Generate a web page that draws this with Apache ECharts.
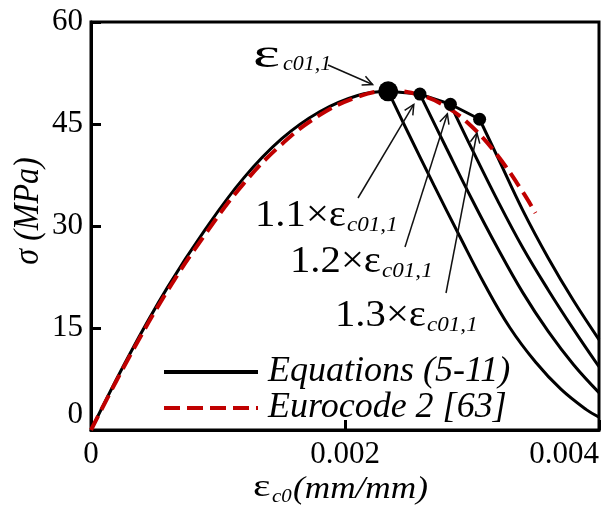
<!DOCTYPE html>
<html>
<head>
<meta charset="utf-8">
<script src="https://cdn.jsdelivr.net/npm/echarts@6/dist/echarts.min.js"></script>
<style>
  html, body { margin: 0; padding: 0; background: #fff; }
  #chart { width: 603px; height: 510px; }
</style>
</head>
<body>
<div id="chart"></div>
<script>
// Axis ticks
const strainTicks = [0, 0.002, 0.004];
const stressTicks = [0, 15, 30, 45, 60];

// Proposed model (Equations 5-11): ascending branch up to the peak (strain, stress in MPa)
const eqAscending = [
  [0, 0], [0.0003, 11.0], [0.0006, 20.9], [0.0009, 29.5], [0.0012, 37.0],
  [0.0015, 42.8], [0.0018, 46.8], [0.0021, 49.2], [0.00234, 49.8]
];
// Envelope linking the peak with the shifted peak points
const eqEnvelope = [[0.00234, 49.8], [0.00259, 49.4], [0.00283, 47.9], [0.00306, 45.7]];

// Descending branches starting at 1.0, 1.1, 1.2 and 1.3 x peak strain
const descent10 = [[0.00234, 49.8], [0.0025, 43.6], [0.0027, 36.0], [0.0029, 28.6], [0.0031, 21.4], [0.0033, 15.0], [0.0035, 10.0], [0.0037, 6.0], [0.0039, 3.0], [0.004, 1.9]];
const descent11 = [[0.00259, 49.4], [0.0028, 41.4], [0.003, 33.9], [0.0032, 26.8], [0.0034, 20.2], [0.0036, 14.5], [0.0038, 9.6], [0.004, 5.5]];
const descent12 = [[0.00283, 47.9], [0.003, 41.3], [0.0032, 33.8], [0.0034, 26.8], [0.0036, 20.6], [0.0038, 14.8], [0.004, 9.3]];
const descent13 = [[0.00306, 45.7], [0.0032, 40.2], [0.0034, 32.3], [0.0036, 25.3], [0.0038, 19.0], [0.004, 13.3]];

// Eurocode 2 stress-strain relation
const eurocode = [
  [0, 0], [0.0003, 10.7], [0.0006, 20.4], [0.0009, 28.8], [0.0012, 36.2],
  [0.0015, 42.0], [0.0018, 46.3], [0.0021, 49.0], [0.00235, 49.9],
  [0.0026, 49.2], [0.0028, 47.5], [0.003, 44.6], [0.0032, 40.4], [0.0034, 35.0], [0.0035, 31.9]
];

// Peak point and shifted peak points
const peakPoint = [[0.00234, 49.8]];
const shiftedPeaks = [[0.00259, 49.4], [0.00283, 47.9], [0.00306, 45.7]];

const serif = "'Liberation Serif', 'Times New Roman', serif";
const EQ = 'Equations (5-11)';
const EC = 'Eurocode 2 [63]';

function blackLine(data, smooth) {
  return {
    name: EQ, type: 'line', data: data, smooth: smooth, symbol: 'none',
    lineStyle: { color: '#000', width: 3 }, itemStyle: { color: '#000' }, z: 2
  };
}

const chart = echarts.init(document.getElementById('chart'));
const option = {
  animation: false,
  grid: { left: 91, right: 4, top: 22, bottom: 80, show: true, borderColor: '#000', borderWidth: 3 },
  xAxis: {
    type: 'value', min: strainTicks[0], max: strainTicks[strainTicks.length - 1], interval: strainTicks[1] - strainTicks[0],
    axisLine: { lineStyle: { color: '#000', width: 3 } },
    axisTick: { inside: true, length: 10, lineStyle: { color: '#000', width: 3 } },
    splitLine: { show: false },
    axisLabel: {
      color: '#000', fontFamily: serif, fontSize: 31, margin: 9,
      alignMaxLabel: 'right',
      formatter: v => (v === 0 ? '0' : v.toFixed(3))
    }
  },
  yAxis: {
    type: 'value', min: stressTicks[0], max: stressTicks[stressTicks.length - 1], interval: stressTicks[1] - stressTicks[0],
    axisLine: { lineStyle: { color: '#000', width: 3 } },
    axisTick: { inside: true, length: 10, lineStyle: { color: '#000', width: 3 } },
    splitLine: { show: false },
    axisLabel: { color: '#000', fontFamily: serif, fontSize: 31, margin: 8, verticalAlignMinLabel: 'bottom' }
  },
  legend: {
    orient: 'vertical', left: 157, top: 349, itemWidth: 94, itemHeight: 14, itemGap: 0,
    itemStyle: { opacity: 0 },
    textStyle: { fontFamily: serif, fontStyle: 'italic', fontSize: 36, lineHeight: 35, color: '#000', padding: [0, 0, 0, 5] },
    data: [
      { name: EQ, lineStyle: { color: '#000', width: 4, type: 'solid' } },
      { name: EC, lineStyle: { color: '#c00000', width: 4, type: [16, 7] } }
    ]
  },
  series: [
    blackLine(eqAscending, 0.4),
    blackLine(eqEnvelope, false),
    blackLine(descent10, 0.4),
    blackLine(descent11, 0.4),
    blackLine(descent12, 0.4),
    blackLine(descent13, 0.4),
    {
      name: EC, type: 'line', data: eurocode, smooth: 0.4, symbol: 'none',
      lineStyle: { color: '#c00000', width: 4, type: [16, 7] }, itemStyle: { color: '#c00000' }, z: 3
    },
    {
      name: 'Peak', type: 'scatter', data: peakPoint, symbolSize: 20,
      itemStyle: { color: '#000', opacity: 1 }, z: 5
    },
    {
      name: 'Shifted peaks', type: 'scatter', data: shiftedPeaks, symbolSize: 13,
      itemStyle: { color: '#000', opacity: 1 }, z: 5
    }
  ]
};
chart.setOption(option);

// Annotation arrows: tail in pixels, tip placed next to the marked point
const arrows = [
  { point: peakPoint[0], tail: [328, 65], gap: 17 },
  { point: shiftedPeaks[0], tail: [358, 198], gap: 12 },
  { point: shiftedPeaks[1], tail: [405, 247], gap: 10 },
  { point: shiftedPeaks[2], tail: [446, 293], gap: 14 }
];

const graphics = [];
arrows.forEach(a => {
  const c = chart.convertToPixel({ gridIndex: 0 }, a.point);
  const dx = a.tail[0] - c[0], dy = a.tail[1] - c[1];
  const len = Math.hypot(dx, dy);
  const ux = dx / len, uy = dy / len;
  const tip = [c[0] + ux * a.gap, c[1] + uy * a.gap];
  graphics.push({
    type: 'line', shape: { x1: a.tail[0], y1: a.tail[1], x2: tip[0], y2: tip[1] },
    style: { stroke: '#111', lineWidth: 1.5 }, z: 10
  });
  const arm = 11, ang = 0.45;
  const pts = [];
  [-ang, ang].forEach(t => {
    const rx = ux * Math.cos(t) - uy * Math.sin(t);
    const ry = ux * Math.sin(t) + uy * Math.cos(t);
    pts.push([tip[0] + rx * arm, tip[1] + ry * arm]);
  });
  graphics.push({
    type: 'polyline', shape: { points: [pts[0], tip, pts[1]] },
    style: { stroke: '#111', lineWidth: 1.5, fill: null }, z: 10
  });
});

function txt(x, y, text, size, italic, sx) {
  return {
    type: 'text', x: x, y: y, scaleX: sx || 1.1, z: 10,
    style: {
      text: text, fontFamily: serif, fontSize: size, fontStyle: italic ? 'italic' : 'normal',
      fill: '#000', align: 'left', verticalAlign: 'middle'
    }
  };
}

// Strain labels next to the arrows
graphics.push(txt(253, 56, 'ε', 40, false, 1.6));
graphics.push(txt(283, 65, 'c01,1', 20, true));
[
  { x: 255, y: 216, f: '1.1' },
  { x: 290, y: 262, f: '1.2' },
  { x: 335, y: 316, f: '1.3' }
].forEach(l => {
  graphics.push(txt(l.x, l.y, l.f + '×ε', 37, false));
  graphics.push(txt(l.x + 92, l.y + 9, 'c01,1', 21, true));
});

// Axis titles
graphics.push(txt(253, 488, 'ε', 32, false, 1.3));
graphics.push(txt(272, 497, 'c0', 19, true));
graphics.push(txt(293, 490, '(mm/mm)', 32, true));
graphics.push({
  type: 'text', x: 29, y: 211, rotation: Math.PI / 2, scaleY: 1.1, z: 10,
  style: {
    text: '{i|σ (MPa)}', align: 'center', verticalAlign: 'middle', fill: '#000',
    rich: {
      i: { fontFamily: serif, fontSize: 32, fontStyle: 'italic', fill: '#000' }
    }
  }
});

chart.setOption({ graphic: graphics });
</script>
</body>
</html>
